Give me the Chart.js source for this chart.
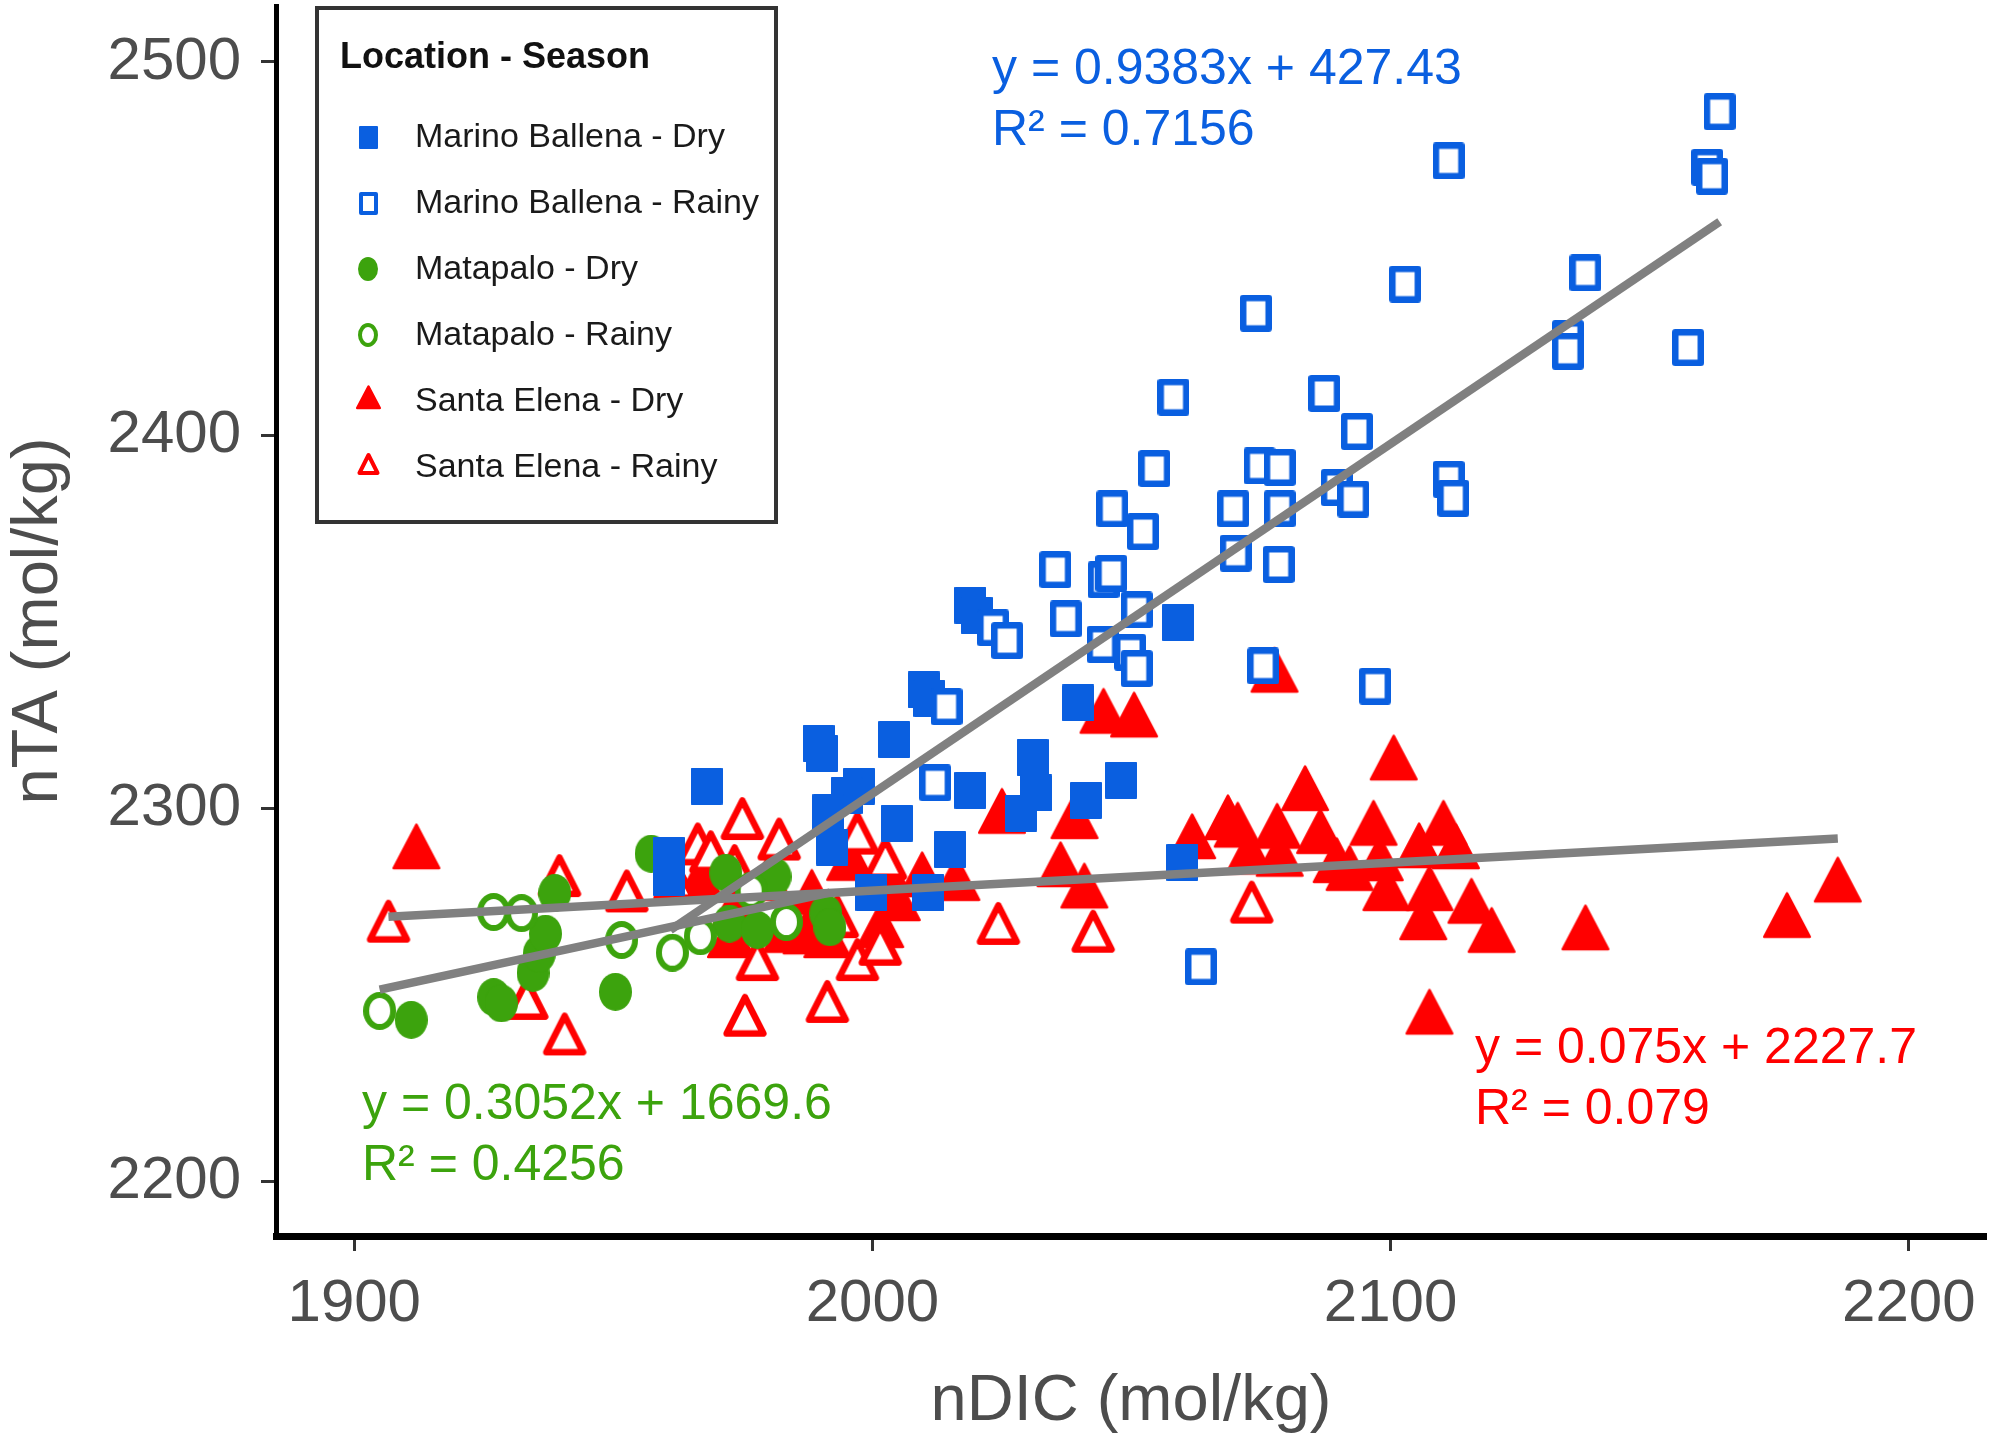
<!DOCTYPE html>
<html>
<head>
<meta charset="utf-8">
<script src="https://cdn.jsdelivr.net/npm/chart.js@4.4.1/dist/chart.umd.min.js"></script>
<style>
html,body{margin:0;padding:0;background:#ffffff;overflow:hidden;}
#c{display:block;}
</style>
</head>
<body>
<canvas id="c" width="1989" height="1443"></canvas>
<script>
// ---------- data ----------
const xTicks = [1900, 2000, 2100, 2200];
const yTicks = [2200, 2300, 2400, 2500];

const mbDryX = [2018.9,2020.1,2059.0,2009.9,2011.0,1989.6,1990.3,2004.2,1968.0,1997.4,1995.0,1991.5,1992.2,2004.7,2018.9,2030.9,2031.6,2028.7,2048.0,2041.2,2039.7,2015.0,1999.8,2010.8,2059.8,1960.7,1960.7];
const mbDryY = [2354.5,2351.8,2349.8,2331.8,2329.5,2317.5,2314.8,2318.5,2306.0,2306.0,2303.5,2298.9,2289.7,2296.1,2304.9,2313.7,2304.2,2298.8,2307.6,2302.2,2328.3,2289.0,2277.5,2277.5,2285.6,2287.5,2281.5];

const mbRainyX = [2163.5,2161.1,2162.0,2111.2,2102.8,2137.6,2134.2,2134.2,2157.4,2111.2,2112.1,2074.0,2058.1,2087.2,2093.5,2054.4,2074.7,2078.6,2089.6,2092.8,2046.3,2052.2,2069.6,2078.6,2070.1,2078.4,2035.3,2044.6,2046.1,2037.3,2051.0,2023.3,2026.0,2044.4,2049.7,2051.0,2075.4,2097.0,2014.3,2012.1,2063.4];
const mbRainyY = [2486.7,2471.8,2469.4,2473.5,2440.5,2443.5,2425.9,2422.5,2423.5,2388.2,2383.1,2432.7,2410.2,2411.2,2401.0,2391.1,2391.8,2391.4,2386.0,2382.9,2380.3,2374.2,2380.3,2380.3,2368.4,2365.4,2364.0,2361.3,2363.0,2350.8,2353.2,2348.4,2345.0,2344.0,2341.9,2337.5,2338.2,2332.8,2327.3,2306.9,2257.6];

const mpDryX = [1911.0,1926.9,1928.4,1934.5,1935.7,1936.9,1938.7,1950.4,1957.3,1971.7,1972.4,1977.8,1981.2,1991.0,1991.8];
const mpDryY = [2243.4,2249.5,2247.8,2256.0,2261.1,2266.5,2277.4,2250.9,2287.9,2282.8,2269.2,2267.5,2281.8,2271.9,2268.2];

const mpRainyX = [1904.9,1926.9,1932.3,1951.6,1961.4,1966.8,1976.6,1983.4];
const mpRainyY = [2245.8,2272.3,2272.0,2264.8,2261.4,2265.8,2278.0,2269.6];

const seDryX = [1912.0,2100.6,2083.5,2068.6,2070.5,2061.7,2078.1,2072.7,2078.6,2086.4,2089.6,2092.1,2096.7,2097.9,2099.2,2105.5,2110.2,2112.6,2107.5,2106.3,2115.6,2119.5,2137.6,2107.5,2186.3,2176.5,2077.6,2044.6,2050.5,2025.0,2039.0,2036.3,2040.9,2016.2,1966.8,1972.7,1979.8,1983.4,1987.3,1991.3,1995.7,2001.5,2002.8,2004.7,2009.6,1973.6,1988.3];
const seDryY = [2287.8,2311.6,2303.4,2295.6,2293.6,2290.5,2293.3,2286.4,2285.8,2291.9,2284.1,2282.0,2294.1,2284.6,2276.6,2288.1,2294.1,2287.8,2276.6,2268.8,2273.2,2265.4,2266.1,2243.5,2278.9,2269.4,2335.1,2324.1,2323.1,2297.3,2295.9,2283.0,2277.3,2279.3,2279.3,2264.0,2279.3,2265.4,2265.0,2264.0,2284.7,2266.7,2281.3,2273.9,2280.3,2272.2,2275.6];

const seRainyX = [1906.6,1933.3,1940.6,1939.6,1952.6,1966.3,1974.9,1968.8,1973.4,1982.0,1977.8,1975.4,1991.3,1997.1,2001.5,1997.1,2002.5,2024.3,2042.6,2073.2,1961.9,1993.2];
const seRainyY = [2268.1,2247.4,2237.9,2280.3,2276.2,2288.8,2295.6,2286.7,2283.0,2290.1,2257.8,2242.9,2246.6,2257.8,2261.9,2291.7,2284.9,2267.5,2265.4,2273.2,2279.3,2269.3];

// regression line end points
const mbLineX = [1961.0, 2163.5];
const mbLineY = [2267.5, 2457.2];
const mpLineX = [1904.9, 1991.8];
const mpLineY = [2251.5, 2277.5];
const seLineX = [1906.6, 2186.3];
const seLineY = [2271.0, 2292.0];

const legendLabels = ["Marino Ballena - Dry","Marino Ballena - Rainy","Matapalo - Dry","Matapalo - Rainy","Santa Elena - Dry","Santa Elena - Rainy"];
const legendTitle = "Location - Season";
const eqMB = ["y = 0.9383x + 427.43", "R\u00B2 = 0.7156"];
const eqMP = ["y = 0.3052x + 1669.6", "R\u00B2 = 0.4256"];
const eqSE = ["y = 0.075x + 2227.7", "R\u00B2 = 0.079"];

// ---------- styles ----------
const BLUE = '#0a5fe0';
const GREEN = '#3ca30d';
const RED = '#ff0000';
const GREY = '#808080';
const FONT = '"Liberation Sans", Arial, Helvetica, sans-serif';

function mk(w, h) { const c = document.createElement('canvas'); c.width = w; c.height = h; return c; }
function squareMarker(color, w, h, open, lw) {
  const c = mk(w, h), g = c.getContext('2d');
  g.lineJoin = 'round';
  if (open) {
    g.fillStyle = '#fff'; g.fillRect(lw/2, lw/2, w - lw, h - lw);
    g.strokeStyle = color; g.lineWidth = lw; g.strokeRect(lw/2, lw/2, w - lw, h - lw);
  } else {
    g.fillStyle = color; g.strokeStyle = color; g.lineWidth = 2;
    g.fillRect(1, 1, w - 2, h - 2); g.strokeRect(1, 1, w - 2, h - 2);
  }
  return c;
}
function circleMarker(color, w, h, open, lw) {
  const c = mk(w, h), g = c.getContext('2d');
  g.beginPath();
  if (open) {
    g.ellipse(w/2, h/2, w/2 - lw/2, h/2 - lw/2, 0, 0, Math.PI*2);
    g.fillStyle = '#fff'; g.fill();
    g.strokeStyle = color; g.lineWidth = lw; g.stroke();
  } else {
    g.ellipse(w/2, h/2, w/2, h/2, 0, 0, Math.PI*2);
    g.fillStyle = color; g.fill();
  }
  return c;
}
function triangleMarker(color, w, h, open, lw) {
  const pad = 2;
  const y0 = pad, y1 = pad + h;
  const cy = y0 + (y1 - y0) * 2 / 3;
  const W = w + 2*pad, H = Math.ceil(2 * cy);
  const c = mk(W, H), g = c.getContext('2d');
  g.lineJoin = 'round';
  const cx = W / 2;
  g.beginPath();
  if (open) {
    const d = lw / 2;
    g.moveTo(cx, y0 + 2*d);
    g.lineTo(pad + w - 1.73*d, y1 - d);
    g.lineTo(pad + 1.73*d, y1 - d);
    g.closePath();
    g.fillStyle = '#fff'; g.fill();
    g.strokeStyle = color; g.lineWidth = lw; g.stroke();
  } else {
    g.moveTo(cx, y0 + 1.5);
    g.lineTo(pad + w - 1.2, y1 - 1);
    g.lineTo(pad + 1.2, y1 - 1);
    g.closePath();
    g.fillStyle = color; g.fill();
    g.strokeStyle = color; g.lineWidth = 2.5; g.stroke();
  }
  return c;
}

const markers = {
  mbDry: squareMarker(BLUE, 32, 37, false, 0),
  mbRainy: squareMarker(BLUE, 32, 37, true, 6.5),
  mpDry: circleMarker(GREEN, 33, 38, false, 0),
  mpRainy: circleMarker(GREEN, 33, 38, true, 6),
  seDry: triangleMarker(RED, 48, 46, false, 0),
  seRainy: triangleMarker(RED, 48, 46, true, 6.5)
};
const legendMarkers = [
  squareMarker(BLUE, 19, 23, false, 0),
  squareMarker(BLUE, 19, 23, true, 4),
  circleMarker(GREEN, 20, 24, false, 0),
  circleMarker(GREEN, 20, 24, true, 4),
  triangleMarker(RED, 25, 24, false, 0),
  triangleMarker(RED, 25, 24, true, 4)
];

function pts(xs, ys) { return xs.map((x, i) => ({x: x, y: ys[i]})); }
function scatterSet(label, xs, ys, marker) {
  return { type: 'scatter', label: label, data: pts(xs, ys), pointStyle: marker, pointRadius: 16, pointHoverRadius: 16, showLine: false };
}
function lineSet(label, xs, ys) {
  return { type: 'line', label: label, data: pts(xs, ys), borderColor: GREY, borderWidth: 8.5, pointRadius: 0, fill: false, tension: 0, borderCapStyle: 'butt' };
}
function noPad(s) { s.paddingTop = 0; s.paddingBottom = 0; s.paddingLeft = 0; s.paddingRight = 0; }

// ---------- annotation / legend plugin ----------
const annotPlugin = {
  id: 'annot',
  afterDraw(chart) {
    const ctx = chart.ctx;
    ctx.save();
    ctx.font = '50px ' + FONT;
    ctx.textAlign = 'left';
    ctx.textBaseline = 'alphabetic';
    const eqs = [[eqMB, BLUE, 992, 84], [eqMP, GREEN, 362, 1119], [eqSE, RED, 1475, 1063]];
    eqs.forEach(([lines, col, x, y]) => {
      ctx.fillStyle = col;
      lines.forEach((t, i) => ctx.fillText(t, x, y + i * 61));
    });
    ctx.fillStyle = '#ffffff';
    ctx.fillRect(315, 6, 463, 518);
    ctx.strokeStyle = '#333333';
    ctx.lineWidth = 4;
    ctx.strokeRect(317, 8, 459, 514);
    ctx.fillStyle = '#111111';
    ctx.textBaseline = 'middle';
    ctx.font = 'bold 36px ' + FONT;
    ctx.fillText(legendTitle, 340, 58);
    ctx.font = '34px ' + FONT;
    legendLabels.forEach((t, i) => {
      const y = 137 + i * 66;
      const m = legendMarkers[i];
      ctx.drawImage(m, Math.round(368 - m.width/2), Math.round(y - m.height/2));
      ctx.fillStyle = '#1a1a1a';
      ctx.fillText(t, 415, y + 1);
    });
    ctx.restore();
  }
};

const datasets = [
  lineSet('MB fit', mbLineX, mbLineY),
  lineSet('MP fit', mpLineX, mpLineY),
  lineSet('SE fit', seLineX, seLineY),
  scatterSet(legendLabels[1], mbRainyX, mbRainyY, markers.mbRainy),
  scatterSet(legendLabels[0], mbDryX, mbDryY, markers.mbDry),
  scatterSet(legendLabels[3], mpRainyX, mpRainyY, markers.mpRainy),
  scatterSet(legendLabels[2], mpDryX, mpDryY, markers.mpDry),
  scatterSet(legendLabels[5], seRainyX, seRainyY, markers.seRainy),
  scatterSet(legendLabels[4], seDryX, seDryY, markers.seDry)
];

new Chart(document.getElementById('c'), {
  type: 'scatter',
  data: { datasets: datasets },
  options: {
    responsive: false,
    maintainAspectRatio: false,
    devicePixelRatio: 1,
    animation: false,
    events: [],
    layout: { autoPadding: false, padding: { left: 0, top: 6, right: 3, bottom: 0 } },
    plugins: { legend: { display: false }, tooltip: { enabled: false } },
    scales: {
      x: {
        type: 'linear',
        min: 1884.9, max: 2214.9,
        afterBuildTicks: (s) => { s.ticks = xTicks.map(v => ({ value: v })); },
        afterFit: (s) => { s.height = 207; noPad(s); },
        grid: { display: true, drawOnChartArea: false, drawTicks: true, tickLength: 15, tickWidth: 3, tickColor: '#333333', color: 'rgba(0,0,0,0)' },
        border: { display: true, color: '#000000', width: 7 },
        ticks: { color: '#4d4d4d', font: { family: FONT, size: 60 }, padding: 17, maxRotation: 0, callback: (v) => String(v) },
        title: { display: true, text: 'nDIC (mol/kg)', color: '#4d4d4d', font: { family: FONT, size: 65 }, padding: { top: 0, bottom: 2 } }
      },
      y: {
        type: 'linear',
        min: 2185.5, max: 2515.0,
        afterBuildTicks: (s) => { s.ticks = yTicks.map(v => ({ value: v })); },
        afterFit: (s) => { s.width = 276; noPad(s); },
        grid: { display: true, drawOnChartArea: false, drawTicks: true, tickLength: 15, tickWidth: 3, tickColor: '#333333', color: 'rgba(0,0,0,0)' },
        border: { display: true, color: '#000000', width: 5 },
        ticks: { color: '#4d4d4d', font: { family: FONT, size: 60 }, padding: 20, callback: (v) => String(v) },
        title: { display: true, text: 'nTA (mol/kg)', color: '#4d4d4d', font: { family: FONT, size: 65 }, padding: { top: 0, bottom: 0 } }
      }
    }
  },
  plugins: [annotPlugin]
});
</script>
</body>
</html>
